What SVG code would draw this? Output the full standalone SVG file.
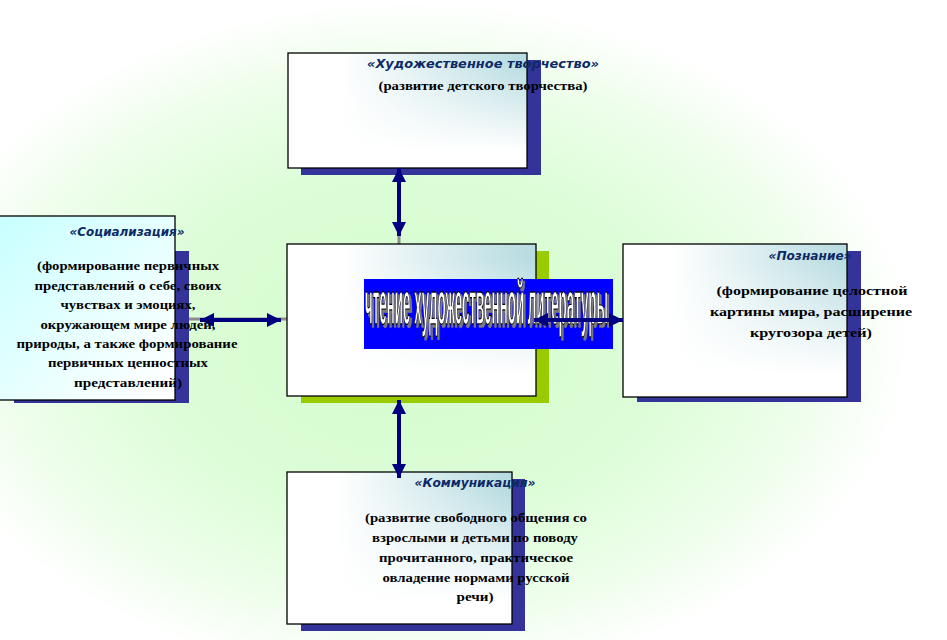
<svg xmlns="http://www.w3.org/2000/svg" width="947" height="640" viewBox="0 0 947 640">
<defs>
<radialGradient id="bg" gradientUnits="userSpaceOnUse" cx="0" cy="0" r="1" gradientTransform="translate(410 340) scale(500 340)">
<stop offset="0" stop-color="#d4fccd"/>
<stop offset="0.5" stop-color="#dcfdd7"/>
<stop offset="0.8" stop-color="#eefeeb"/>
<stop offset="1" stop-color="#ffffff"/>
</radialGradient>
<linearGradient id="boxH" x1="0" y1="0" x2="1" y2="0">
<stop offset="0" stop-color="#ffffff"/>
<stop offset="0.22" stop-color="#ffffff"/>
<stop offset="1" stop-color="#b6dbe0"/>
</linearGradient>
<linearGradient id="boxV" x1="0" y1="0" x2="0" y2="1">
<stop offset="0.1" stop-color="#ffffff" stop-opacity="0"/>
<stop offset="0.85" stop-color="#ffffff" stop-opacity="1"/>
</linearGradient>
<linearGradient id="boxC" x1="0" y1="0" x2="1" y2="1">
<stop offset="0" stop-color="#c8ffff"/>
<stop offset="0.95" stop-color="#ffffff"/>
</linearGradient>
<marker id="ah" markerUnits="userSpaceOnUse" markerWidth="14" markerHeight="14" viewBox="0 0 14 14" refX="14" refY="7" orient="auto-start-reverse">
<path d="M0,0 L14,7 L0,14 z" fill="#000080"/>
</marker>
<filter id="artShadow" x="-5%" y="-20%" width="115%" height="150%">
<feDropShadow dx="10" dy="3" stdDeviation="0" flood-color="#7a7a7a" flood-opacity="1"/>
</filter>
</defs>
<style>
.shadow{fill:#333399}
.frame{fill:none;stroke:#000;stroke-width:1.3}
.title{font-family:"DejaVu Sans",sans-serif;font-weight:bold;font-style:italic;font-size:12px;fill:#0d2a66;text-anchor:middle}
.body{font-family:"Liberation Serif",serif;font-weight:bold;font-size:13.5px;fill:#000;text-anchor:middle}
.gray{stroke:#8c8c8c;stroke-width:3;fill:none}
.conn{stroke:#000080;stroke-width:4;fill:none;marker-start:url(#ah);marker-end:url(#ah)}
.art{font-family:"Liberation Sans",sans-serif;font-weight:bold;font-size:62px}
</style>
<rect width="947" height="640" fill="url(#bg)"/>

<g id="connectors-under">
<line class="gray" x1="399" y1="168" x2="399" y2="244"/>
<line class="gray" x1="189" y1="319" x2="287" y2="319"/>
</g>

<g id="node-top">
<rect class="shadow" x="301" y="60" width="240" height="115"/>
<rect x="288" y="53" width="239" height="115" fill="url(#boxH)"/>
<rect x="288" y="53" width="239" height="115" fill="url(#boxV)"/>
<rect class="frame" x="288" y="53" width="239" height="115"/>
</g>

<g id="node-left">
<rect class="shadow" x="14" y="251" width="175" height="152"/>
<rect x="-2" y="216" width="177" height="184" fill="url(#boxC)"/>
<rect class="frame" x="-2" y="216" width="177" height="184"/>
</g>

<g id="node-center">
<rect x="301" y="251" width="248" height="152" fill="#99cc00"/>
<rect x="287" y="244" width="249" height="152" fill="url(#boxH)"/>
<rect x="287" y="244" width="249" height="152" fill="url(#boxV)"/>
<rect class="frame" x="287" y="244" width="249" height="152"/>
</g>

<g id="node-right">
<rect class="shadow" x="637" y="251" width="224" height="151"/>
<rect x="623" y="244" width="224" height="153" fill="url(#boxH)"/>
<rect x="623" y="244" width="224" height="153" fill="url(#boxV)"/>
<rect class="frame" x="623" y="244" width="224" height="153"/>
</g>

<g id="node-bottom">
<rect class="shadow" x="301" y="479" width="224" height="152"/>
<rect x="287" y="472" width="225" height="152" fill="url(#boxH)"/>
<rect x="287" y="472" width="225" height="152" fill="url(#boxV)"/>
<rect class="frame" x="287" y="472" width="225" height="152"/>
</g>

<g id="banner">
<rect x="364" y="279" width="249" height="70" fill="#0000ff"/>
<g transform="scale(0.21 1)">
<text class="art" x="1738.1" y="324" textLength="1157" lengthAdjust="spacingAndGlyphs" fill="#ffffff" stroke="#000" stroke-width="1" vector-effect="non-scaling-stroke" filter="url(#artShadow)">чтение художественной литературы</text>
</g>
</g>

<g id="connectors">
<line class="conn" x1="399" y1="168" x2="399" y2="236"/>
<line class="conn" x1="399" y1="400" x2="399" y2="478"/>
<line class="conn" x1="200" y1="320" x2="281" y2="320"/>
<line class="conn" x1="534" y1="320" x2="623" y2="320"/>
</g>

<g id="labels">
<text class="title" x="483" y="68" textLength="232" lengthAdjust="spacingAndGlyphs">«Художественное творчество»</text>
<text class="body" x="483" y="90" textLength="209" lengthAdjust="spacingAndGlyphs">(развитие детского творчества)</text>

<text class="title" x="127" y="236" textLength="115" lengthAdjust="spacingAndGlyphs">«Социализация»</text>
<text class="body" x="128" y="270" textLength="182" lengthAdjust="spacingAndGlyphs">(формирование первичных</text>
<text class="body" x="128" y="290" textLength="187" lengthAdjust="spacingAndGlyphs">представлений о себе, своих</text>
<text class="body" x="128" y="309" textLength="135" lengthAdjust="spacingAndGlyphs">чувствах и эмоциях,</text>
<text class="body" x="128" y="329" textLength="175" lengthAdjust="spacingAndGlyphs">окружающем мире людей,</text>
<text class="body" x="127" y="348" textLength="221" lengthAdjust="spacingAndGlyphs">природы, а также формирование</text>
<text class="body" x="128" y="367" textLength="160" lengthAdjust="spacingAndGlyphs">первичных ценностных</text>
<text class="body" x="128" y="387" textLength="108" lengthAdjust="spacingAndGlyphs">представлений)</text>

<text class="title" x="810" y="260" textLength="83" lengthAdjust="spacingAndGlyphs">«Познание»</text>
<text class="body" x="812" y="295" textLength="191" lengthAdjust="spacingAndGlyphs">(формирование целостной</text>
<text class="body" x="811" y="316" textLength="202" lengthAdjust="spacingAndGlyphs">картины мира, расширение</text>
<text class="body" x="811" y="337" textLength="122" lengthAdjust="spacingAndGlyphs">кругозора детей)</text>

<text class="title" x="475" y="487" textLength="121" lengthAdjust="spacingAndGlyphs">«Коммуникация»</text>
<text class="body" x="476" y="522" textLength="222" lengthAdjust="spacingAndGlyphs">(развитие свободного общения со</text>
<text class="body" x="475" y="542" textLength="206" lengthAdjust="spacingAndGlyphs">взрослыми и детьми по поводу</text>
<text class="body" x="476" y="562" textLength="194" lengthAdjust="spacingAndGlyphs">прочитанного, практическое</text>
<text class="body" x="476" y="582" textLength="187" lengthAdjust="spacingAndGlyphs">овладение нормами русской</text>
<text class="body" x="475" y="601" textLength="37" lengthAdjust="spacingAndGlyphs">речи)</text>
</g>
</svg>
